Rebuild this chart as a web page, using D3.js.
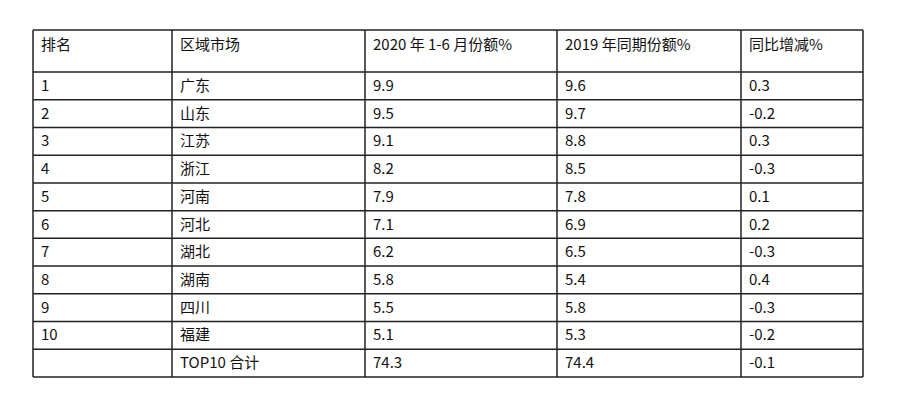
<!DOCTYPE html>
<html><head><meta charset="utf-8">
<script src="https://cdn.jsdelivr.net/npm/d3@7"></script>
<style>body{margin:0;background:#fff}</style>
</head><body>
<svg id="c" width="900" height="414"></svg>
<script>
var headers = ["排名", "区域市场", "2020 年 1-6 月份额%", "2019 年同期份额%", "同比增减%"];
var ranks = ["1","2","3","4","5","6","7","8","9","10",""];
var regions = ["广东","山东","江苏","浙江","河南","河北","湖北","湖南","四川","福建","TOP10 合计"];
var share2020 = ["9.9","9.5","9.1","8.2","7.9","7.1","6.2","5.8","5.5","5.1","74.3"];
var share2019 = ["9.6","9.7","8.8","8.5","7.8","6.9","6.5","5.4","5.8","5.3","74.4"];
var change = ["0.3","-0.2","0.3","-0.3","0.1","0.2","-0.3","0.4","-0.3","-0.2","-0.1"];

var colEdges = [33, 172, 365, 557, 741, 863];
var tableTop = 30, headBottom = 72, tableBottom = 377;

var svg = d3.select("#c");
var rows = d3.range(ranks.length).map(function(i){
  return [ranks[i], regions[i], share2020[i], share2019[i], change[i]];
});
var y = d3.scaleBand().domain(d3.range(rows.length)).range([headBottom, tableBottom]);
var font = "'Noto Sans CJK SC', 'Noto Sans', sans-serif";

// header text
svg.selectAll("text.h").data(headers).enter().append("text")
  .attr("x", function(d,i){ return colEdges[i] + 8; })
  .attr("y", tableTop + 20)
  .attr("font-family", font).attr("font-size", 15).attr("fill", "#111")
  .text(function(d){ return d; });

// body text
rows.forEach(function(r, ri){
  svg.selectAll(null).data(r).enter().append("text")
    .attr("x", function(d,i){ return colEdges[i] + 8; })
    .attr("y", y(ri) + y.bandwidth()/2 + 5)
    .attr("font-family", font).attr("font-size", 15).attr("fill", "#111")
    .text(function(d){ return d; });
});

// grid lines
var hLines = [tableTop, headBottom].concat(d3.range(1, rows.length).map(function(i){ return y(i); })).concat([tableBottom]);
svg.selectAll("line.h").data(hLines).enter().append("line")
  .attr("x1", colEdges[0]).attr("x2", colEdges[5])
  .attr("y1", function(d){ return d; }).attr("y2", function(d){ return d; })
  .attr("stroke", "#222").attr("stroke-width", 1.5);
svg.selectAll("line.v").data(colEdges).enter().append("line")
  .attr("x1", function(d){ return d; }).attr("x2", function(d){ return d; })
  .attr("y1", tableTop).attr("y2", tableBottom)
  .attr("stroke", "#222").attr("stroke-width", 1.5);
</script>
</body></html>
